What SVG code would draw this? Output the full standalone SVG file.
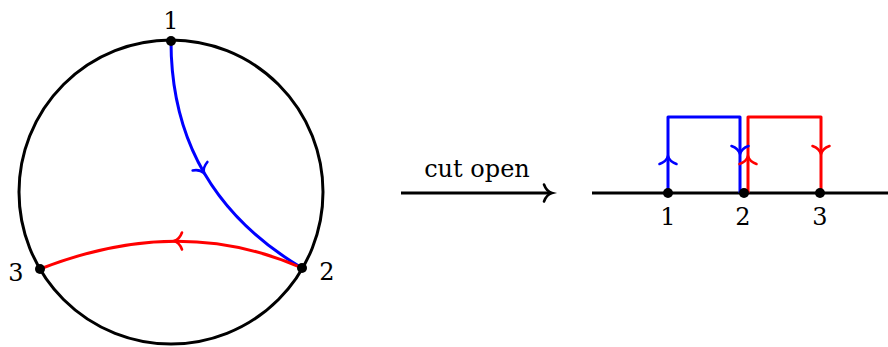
<svg xmlns="http://www.w3.org/2000/svg" xmlns:xlink="http://www.w3.org/1999/xlink" width="888" height="347" viewBox="0 0 888 347">
<style>
.k{stroke:#000;stroke-width:3;fill:none}
.b{stroke:#0000ff;stroke-width:3;fill:none}
.r{stroke:#ff0000;stroke-width:3;fill:none}
.t{font-family:"DejaVu Serif","Liberation Serif",serif;font-size:24px;fill:#000}
.tip{fill:none;stroke-width:2.6;stroke-linecap:round}
</style>
<defs>
<path id="tip" d="M -7,-8.5 C -5,-3 -2,-0.8 1,0 C -2,0.8 -5,3 -7,8.5"/>
</defs>
<g id="circle-diagram">
<circle class="k" cx="171" cy="192" r="152"/>
</g>
<g id="connectors">
<path class="b" d="M 171,41 Q 171,190 302,268"/>
<use xlink:href="#tip" class="tip" stroke="#0000ff" transform="translate(203.5,172.3) rotate(60.2)"/>
<path class="r" d="M 302,268 Q 180,214 40,269"/>
<use xlink:href="#tip" class="tip" stroke="#ff0000" transform="translate(175,241) rotate(180)"/>
<line class="k" x1="401" y1="193" x2="551" y2="193"/>
<use xlink:href="#tip" class="tip" stroke="#000" transform="translate(551,193)"/>
<line class="k" x1="592" y1="193" x2="888" y2="193"/>
<path class="b" d="M 668,193 V 117 H 740 V 193" stroke-linejoin="round"/>
<path class="r" d="M 748,193 V 117 H 821 V 193" stroke-linejoin="round"/>
<use xlink:href="#tip" class="tip" stroke="#0000ff" transform="translate(668,157) rotate(-90)"/>
<use xlink:href="#tip" class="tip" stroke="#0000ff" transform="translate(740,153) rotate(90)"/>
<use xlink:href="#tip" class="tip" stroke="#ff0000" transform="translate(748,157) rotate(-90)"/>
<use xlink:href="#tip" class="tip" stroke="#ff0000" transform="translate(821,153) rotate(90)"/>
</g>
<g id="node-1">
<circle cx="171" cy="41" r="5"/>
<text class="t" x="171" y="29" text-anchor="middle">1</text>
</g>
<g id="node-2">
<circle cx="302" cy="268" r="5"/>
<text class="t" x="327" y="280" text-anchor="middle">2</text>
</g>
<g id="node-3">
<circle cx="40" cy="269" r="5"/>
<text class="t" x="16" y="281" text-anchor="middle">3</text>
</g>
<g id="label-cut">
<text class="t" x="477" y="177" text-anchor="middle">cut open</text>
</g>
<g id="line-node-1">
<circle cx="668" cy="193" r="5"/>
<text class="t" x="668" y="225" text-anchor="middle">1</text>
</g>
<g id="line-node-2">
<circle cx="744" cy="193" r="5"/>
<text class="t" x="743" y="225" text-anchor="middle">2</text>
</g>
<g id="line-node-3">
<circle cx="820" cy="193" r="5"/>
<text class="t" x="820" y="225" text-anchor="middle">3</text>
</g>
</svg>
